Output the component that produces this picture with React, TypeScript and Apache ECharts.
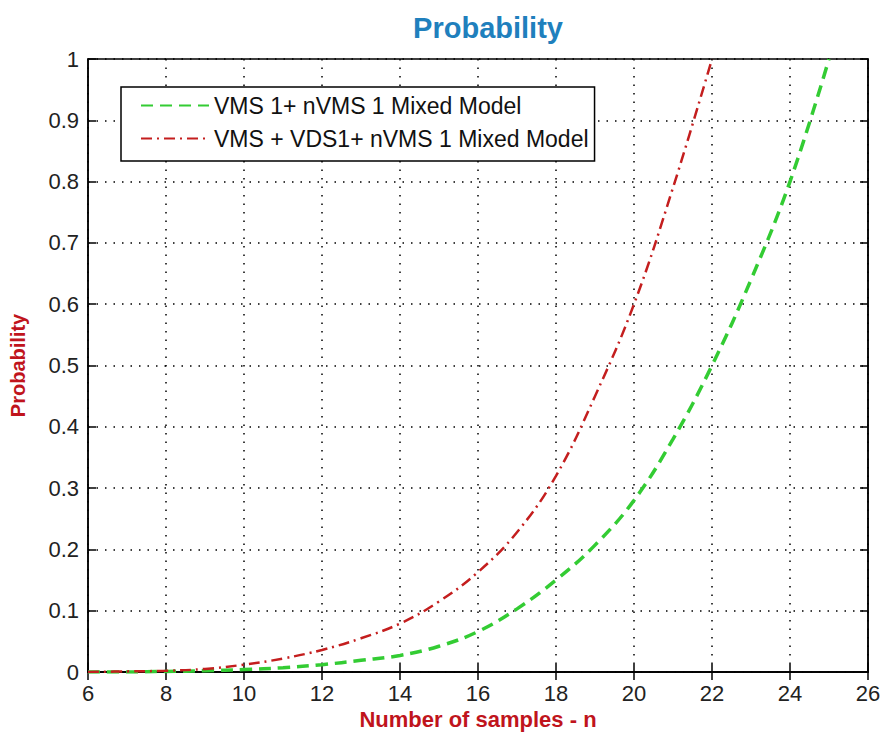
import React, { useEffect, useRef } from "react";
import * as echarts from "echarts";

const greenName = "VMS 1+ nVMS 1 Mixed Model";
const redName = "VMS + VDS1+ nVMS 1 Mixed Model";

const greenN = [6, 7, 8, 9, 10, 11, 12, 13, 14, 15, 16, 17, 18, 19, 20, 21, 22, 23, 24, 25];
const greenP = [0, 0, 0.001, 0.002, 0.004, 0.007, 0.012, 0.019, 0.027, 0.042, 0.066, 0.103, 0.15, 0.207, 0.28, 0.38, 0.5, 0.64, 0.8, 1.0];

const redN = [6, 7, 8, 9, 10, 11, 12, 13, 14, 15, 16, 17, 18, 19, 20, 21, 22];
const redP = [0, 0.001, 0.002, 0.005, 0.012, 0.022, 0.036, 0.055, 0.079, 0.115, 0.163, 0.228, 0.32, 0.45, 0.6, 0.79, 1.0];

const FONT = "'Liberation Sans', Arial, sans-serif";

export default function App() {
  const ref = useRef<HTMLDivElement>(null);
  useEffect(() => {
    if (!ref.current) return;
    const chart = echarts.init(ref.current, null, { renderer: "svg" });
    const gridLine = { show: true, lineStyle: { color: "#000", width: 1.5, type: [1.5, 7] } };
    const tickStyle = { show: true, inside: true, length: 8, lineStyle: { color: "#000", width: 1.5 } };
    chart.setOption({
      animation: false,
      backgroundColor: "#fff",
      title: {
        text: "Probability",
        left: 483,
        top: 8,
        textAlign: "center",
        textStyle: { fontFamily: FONT, fontSize: 29, fontWeight: "bold", color: "#1f80bd" },
      },
      legend: {
        left: 121,
        top: 87,
        orient: "vertical",
        padding: [7, 6, 11, 19],
        itemGap: 10,
        itemWidth: 68,
        itemHeight: 14,
        backgroundColor: "#fff",
        borderColor: "#000",
        borderWidth: 1.5,
        borderRadius: 0,
        itemStyle: { opacity: 0 },
        textStyle: { fontFamily: FONT, fontSize: 23, color: "#111" },
        data: [greenName, redName],
      },
      grid: {
        left: 88,
        right: 16,
        top: 59,
        bottom: 64,
        show: true,
        borderColor: "#000",
        borderWidth: 1.5,
        containLabel: false,
        outerBoundsMode: "none",
      },
      xAxis: [
        {
          type: "value",
          min: 6,
          max: 26,
          interval: 2,
          name: "Number of samples - n",
          nameLocation: "middle",
          nameGap: 31,
          nameTextStyle: { fontFamily: FONT, fontSize: 22, fontWeight: "bold", color: "#c0141c" },
          axisLine: { show: true, lineStyle: { color: "#000", width: 1.5 } },
          axisTick: tickStyle,
          axisLabel: { fontFamily: FONT, fontSize: 22, color: "#222", margin: 10 },
          splitLine: gridLine,
        },
        {
          type: "value",
          position: "top",
          min: 6,
          max: 26,
          interval: 2,
          axisLine: { show: true, lineStyle: { color: "#000", width: 1.5 } },
          axisTick: tickStyle,
          axisLabel: { show: false },
          splitLine: { show: false },
        },
      ],
      yAxis: [
        {
          type: "value",
          min: 0,
          max: 1,
          interval: 0.1,
          name: "Probability",
          nameLocation: "middle",
          nameGap: 60,
          nameTextStyle: { fontFamily: FONT, fontSize: 20, fontWeight: "bold", color: "#c0141c" },
          axisLine: { show: true, lineStyle: { color: "#000", width: 1.5 } },
          axisTick: tickStyle,
          axisLabel: { fontFamily: FONT, fontSize: 22, color: "#222", margin: 9 },
          splitLine: gridLine,
        },
        {
          type: "value",
          position: "right",
          min: 0,
          max: 1,
          interval: 0.1,
          axisLine: { show: true, lineStyle: { color: "#000", width: 1.5 } },
          axisTick: tickStyle,
          axisLabel: { show: false },
          splitLine: { show: false },
        },
      ],
      series: [
        {
          name: greenName,
          type: "line",
          xAxisIndex: 0,
          yAxisIndex: 0,
          smooth: 0.4,
          symbol: "none",
          data: greenN.map((n, i) => [n, greenP[i]]),
          lineStyle: { color: "#33cc33", width: 3.5, type: [12, 7] },
          itemStyle: { color: "#33cc33" },
          z: 3,
        },
        {
          name: redName,
          type: "line",
          xAxisIndex: 0,
          yAxisIndex: 0,
          smooth: 0.4,
          symbol: "none",
          data: redN.map((n, i) => [n, redP[i]]),
          lineStyle: { color: "#c41e1e", width: 2.5, type: [11, 5, 2, 5] },
          itemStyle: { color: "#c41e1e" },
          z: 4,
        },
      ],
    });
    return () => chart.dispose();
  }, []);
  return (
    <div
      ref={ref}
      style={{ position: "fixed", left: 0, top: 0, width: 884, height: 736, background: "#fff" }}
    />
  );
}
